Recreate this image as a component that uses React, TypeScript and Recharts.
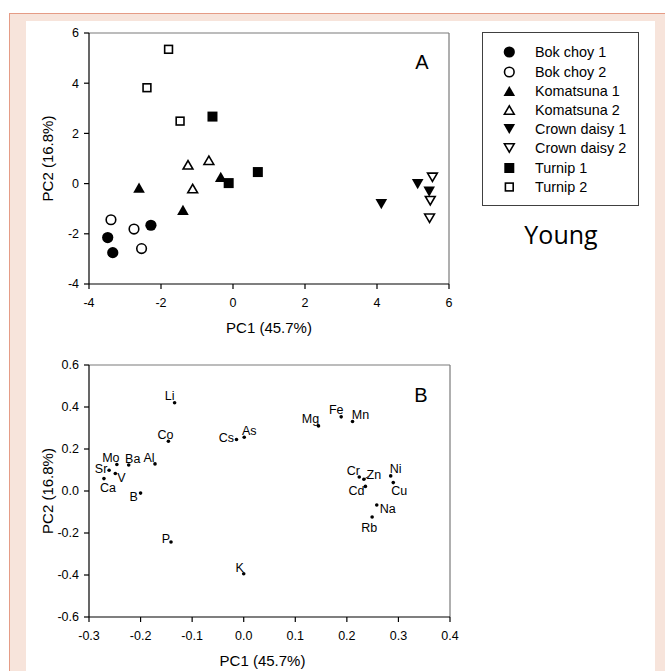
import React from 'react';
import { ScatterChart, Scatter, XAxis, YAxis, ReferenceLine, Legend } from 'recharts';

const FONT = '"Liberation Sans", Arial, sans-serif';

// ---------- Panel A: PCA scores ----------
const scoreXTicks = [-4, -2, 0, 2, 4, 6];
const scoreYTicks = [-4, -2, 0, 2, 4, 6];

const bokChoy1 = [
  { x: -2.28, y: -1.66 },
  { x: -3.48, y: -2.15 },
  { x: -3.34, y: -2.75 },
];
const bokChoy2 = [
  { x: -3.39, y: -1.44 },
  { x: -2.75, y: -1.81 },
  { x: -2.54, y: -2.59 },
];
const komatsuna1 = [
  { x: -2.61, y: -0.16 },
  { x: -1.39, y: -1.05 },
  { x: -0.34, y: 0.27 },
];
const komatsuna2 = [
  { x: -1.25, y: 0.75 },
  { x: -0.67, y: 0.93 },
  { x: -1.12, y: -0.2 },
];
const crownDaisy1 = [
  { x: 4.12, y: -0.82 },
  { x: 5.13, y: -0.02 },
  { x: 5.45, y: -0.32 },
];
const crownDaisy2 = [
  { x: 5.54, y: 0.25 },
  { x: 5.48, y: -0.68 },
  { x: 5.46, y: -1.38 },
];
const turnip1 = [
  { x: -0.57, y: 2.67 },
  { x: -0.12, y: 0.02 },
  { x: 0.69, y: 0.46 },
];
const turnip2 = [
  { x: -1.79, y: 5.35 },
  { x: -2.39, y: 3.82 },
  { x: -1.47, y: 2.49 },
];

const seriesNames = [
  'Bok choy 1',
  'Bok choy 2',
  'Komatsuna 1',
  'Komatsuna 2',
  'Crown daisy 1',
  'Crown daisy 2',
  'Turnip 1',
  'Turnip 2',
];
const seriesData = [bokChoy1, bokChoy2, komatsuna1, komatsuna2, crownDaisy1, crownDaisy2, turnip1, turnip2];

// marker style per series (kind, filled)
const seriesKinds = ['circle', 'circle', 'up', 'up', 'down', 'down', 'square', 'square'];
const seriesFilled = [true, false, true, false, true, false, true, false];

// ---------- Panel B: loadings ----------
const loadingXTicks = [-0.3, -0.2, -0.1, 0, 0.1, 0.2, 0.3, 0.4];
const loadingYTicks = [-0.6, -0.4, -0.2, 0, 0.2, 0.4, 0.6];

const elements = ['Li', 'Co', 'Cs', 'As', 'Mo', 'Ba', 'Al', 'Sr', 'V', 'Ca', 'B', 'P', 'K', 'Mg', 'Fe', 'Mn', 'Cr', 'Zn', 'Cd', 'Ni', 'Cu', 'Na', 'Rb'];
const elementPC1 = [-0.134, -0.146, -0.014, 0.001, -0.246, -0.223, -0.172, -0.261, -0.249, -0.271, -0.2, -0.141, 0.0, 0.145, 0.189, 0.211, 0.224, 0.233, 0.236, 0.285, 0.29, 0.258, 0.249];
const elementPC2 = [0.42, 0.237, 0.245, 0.256, 0.126, 0.124, 0.129, 0.099, 0.083, 0.059, -0.01, -0.243, -0.394, 0.31, 0.353, 0.331, 0.067, 0.056, 0.022, 0.072, 0.04, -0.067, -0.124];

// label placement (style): pixel offsets of each label from its point
const labelOffset: Record<string, [number, number]> = {
  Li: [-5, -7], Co: [-3, -6], Cs: [-10, -2], As: [5, -6], Mo: [-6, -7], Ba: [4, -6], Al: [-6, -6],
  Sr: [-8, -1], V: [6, 4], Ca: [4, 9], B: [-7, 4], P: [-5, -3], K: [-4, -6], Mg: [-8, -7],
  Fe: [-5, -7], Mn: [8, -6], Cr: [-6, -6], Zn: [10, -4], Cd: [-9, 5], Ni: [5, -7], Cu: [6, 8],
  Na: [11, 4], Rb: [-3, 11],
};

const loadingData = elements.map((n, i) => ({ name: n, x: elementPC1[i], y: elementPC2[i] }));

// ---------- drawing helpers ----------
function Marker({ kind, filled, cx, cy }: { kind: string; filled: boolean; cx: number; cy: number }) {
  const sw = 1.6;
  const fill = filled ? '#000' : '#fff';
  const strokeWidth = filled ? 0 : sw;
  if (kind === 'circle') {
    return <circle cx={cx} cy={cy} r={filled ? 5.6 : 4.8} fill={fill} stroke="#000" strokeWidth={strokeWidth} />;
  }
  if (kind === 'square') {
    const s = filled ? 10 : 7.8;
    return <rect x={cx - s / 2} y={cy - s / 2} width={s} height={s} fill={fill} stroke="#000" strokeWidth={strokeWidth} />;
  }
  const w = filled ? 11.6 : 9.8;
  const h = filled ? 10.2 : 8.4;
  const pts =
    kind === 'up'
      ? `${cx - w / 2},${cy + h / 2} ${cx + w / 2},${cy + h / 2} ${cx},${cy - h / 2}`
      : `${cx - w / 2},${cy - h / 2} ${cx + w / 2},${cy - h / 2} ${cx},${cy + h / 2}`;
  return <polygon points={pts} fill={fill} stroke="#000" strokeWidth={strokeWidth} strokeLinejoin="miter" />;
}

const LegendBox = () => (
  <div
    style={{
      width: 157,
      height: 174,
      border: '1px solid #404040',
      boxSizing: 'border-box',
      background: '#fff',
      position: 'relative',
      fontFamily: FONT,
      fontSize: 14.4,
      color: '#000',
    }}
  >
    {seriesNames.map((name, i) => (
      <div
        key={name}
        style={{ position: 'absolute', left: 0, top: 19.3 + i * 19.2 - 10, height: 20, width: 155 }}
      >
        <svg width={40} height={20} style={{ position: 'absolute', left: 0, top: 0 }}>
          <Marker kind={seriesKinds[i]} filled={seriesFilled[i]} cx={26.3} cy={10} />
        </svg>
        <span style={{ position: 'absolute', left: 52, top: 0, lineHeight: '20px', whiteSpace: 'nowrap' }}>{name}</span>
      </div>
    ))}
  </div>
);

const tickStyle = { fontSize: 12.5, fill: '#000', fontFamily: FONT };

const XTitle = (shift: number) => (props: any) => {
  const vb = props.viewBox || {};
  return (
    <text
      x={vb.x + vb.width / 2 + shift}
      y={vb.y + vb.height - 5}
      textAnchor="middle"
      fontSize={15}
      fontFamily={FONT}
      fill="#000"
    >
      PC1 (45.7%)
    </text>
  );
};

const YTitle = (props: any) => {
  const vb = props.viewBox || {};
  const x = vb.x + 14;
  const y = vb.y + vb.height / 2;
  return (
    <text
      x={x}
      y={y}
      dy="0.355em"
      transform={`rotate(-90, ${x}, ${y})`}
      textAnchor="middle"
      fontSize={15}
      fontFamily={FONT}
      fill="#000"
    >
      PC2 (16.8%)
    </text>
  );
};

const ElementDot = (p: any) => {
  const { cx, cy, payload } = p;
  const off = labelOffset[payload.name] || [0, -7];
  return (
    <g>
      <circle cx={cx} cy={cy} r={1.8} fill="#000" />
      {payload.name === 'Zn' && <line x1={cx} y1={cy} x2={cx + 4} y2={cy - 2.5} stroke="#000" strokeWidth={0.8} />}
      <text
        x={cx + off[0]}
        y={cy + off[1]}
        textAnchor="middle"
        dominantBaseline="central"
        fontSize={12.5}
        fontFamily={FONT}
        fill="#000"
      >
        {payload.name}
      </text>
    </g>
  );
};

export default function App() {
  return (
    <div style={{ position: 'absolute', left: 0, top: 0, width: 665, height: 671, background: '#fff', overflow: 'hidden' }}>
      {/* frame background */}
      <div
        style={{
          position: 'absolute',
          left: 9,
          top: 13,
          width: 670,
          height: 680,
          background: '#F7E4DB',
          borderLeft: '1px solid #E59C86',
          borderTop: '1px solid #E59C86',
        }}
      />
      <div style={{ position: 'absolute', left: 26, top: 21, width: 629, height: 660, background: '#fff' }} />

      {/* Panel A */}
      <div style={{ position: 'absolute', left: 0, top: 0 }}>
        <ScatterChart width={665} height={340} margin={{ top: 33, right: 216, bottom: 2, left: 34 }}>
          <XAxis
            type="number"
            dataKey="x"
            domain={[-4, 6]}
            ticks={scoreXTicks}
            interval={0}
            height={54}
            tickSize={5}
            tickMargin={9}
            tick={tickStyle}
            axisLine={{ stroke: '#000', strokeWidth: 1.2 }}
            tickLine={{ stroke: '#000', strokeWidth: 1.2 }}
            label={{ content: XTitle(0) }}
          />
          <YAxis
            type="number"
            dataKey="y"
            domain={[-4, 6]}
            ticks={scoreYTicks}
            interval={0}
            width={55}
            tickSize={5}
            tickMargin={5}
            tick={tickStyle}
            axisLine={{ stroke: '#000', strokeWidth: 1.2 }}
            tickLine={{ stroke: '#000', strokeWidth: 1.2 }}
            label={{ content: YTitle }}
          />
          <ReferenceLine y={6} stroke="#7a7a7a" strokeWidth={1.2} />
          <ReferenceLine x={6} stroke="#7a7a7a" strokeWidth={1.2} />
          {seriesNames.map((name, i) => (
            <Scatter
              key={name}
              name={name}
              data={seriesData[i]}
              isAnimationActive={false}
              shape={(p: any) => <Marker kind={seriesKinds[i]} filled={seriesFilled[i]} cx={p.cx} cy={p.cy} />}
            />
          ))}
          <Legend
            layout="vertical"
            align="center"
            verticalAlign="middle"
            wrapperStyle={{ left: 482, top: 32, width: 157, height: 174 }}
            content={() => <LegendBox />}
          />
        </ScatterChart>
      </div>

      {/* Panel B */}
      <div style={{ position: 'absolute', left: 0, top: 340 }}>
        <ScatterChart width={665} height={331} margin={{ top: 25, right: 215, bottom: 0, left: 34 }}>
          <XAxis
            type="number"
            dataKey="x"
            domain={[-0.3, 0.4]}
            ticks={loadingXTicks}
            interval={0}
            height={54}
            tickSize={5}
            tickMargin={9}
            tick={tickStyle}
            tickFormatter={(v: number) => v.toFixed(1)}
            axisLine={{ stroke: '#000', strokeWidth: 1.2 }}
            tickLine={{ stroke: '#000', strokeWidth: 1.2 }}
            label={{ content: XTitle(-7) }}
          />
          <YAxis
            type="number"
            dataKey="y"
            domain={[-0.6, 0.6]}
            ticks={loadingYTicks}
            interval={0}
            width={55}
            tickSize={5}
            tickMargin={5}
            tick={tickStyle}
            tickFormatter={(v: number) => v.toFixed(1)}
            axisLine={{ stroke: '#000', strokeWidth: 1.2 }}
            tickLine={{ stroke: '#000', strokeWidth: 1.2 }}
            label={{ content: YTitle }}
          />
          <ReferenceLine y={0.6} stroke="#7a7a7a" strokeWidth={1.2} />
          <ReferenceLine x={0.4} stroke="#7a7a7a" strokeWidth={1.2} />
          <Scatter name="Elements" data={loadingData} isAnimationActive={false} shape={ElementDot} />
        </ScatterChart>
      </div>

      {/* panel letters and caption */}
      <div style={{ position: 'absolute', left: 402, top: 51, width: 40, textAlign: 'center', fontFamily: FONT, fontSize: 20, lineHeight: '22px', color: '#000' }}>A</div>
      <div style={{ position: 'absolute', left: 401, top: 384, width: 40, textAlign: 'center', fontFamily: FONT, fontSize: 20, lineHeight: '22px', color: '#000' }}>B</div>
      <div style={{ position: 'absolute', left: 501, top: 218.6, width: 120, textAlign: 'center', fontFamily: '"Open Sans", sans-serif', fontSize: 25, lineHeight: '30px', color: '#000' }}>Young</div>
    </div>
  );
}
